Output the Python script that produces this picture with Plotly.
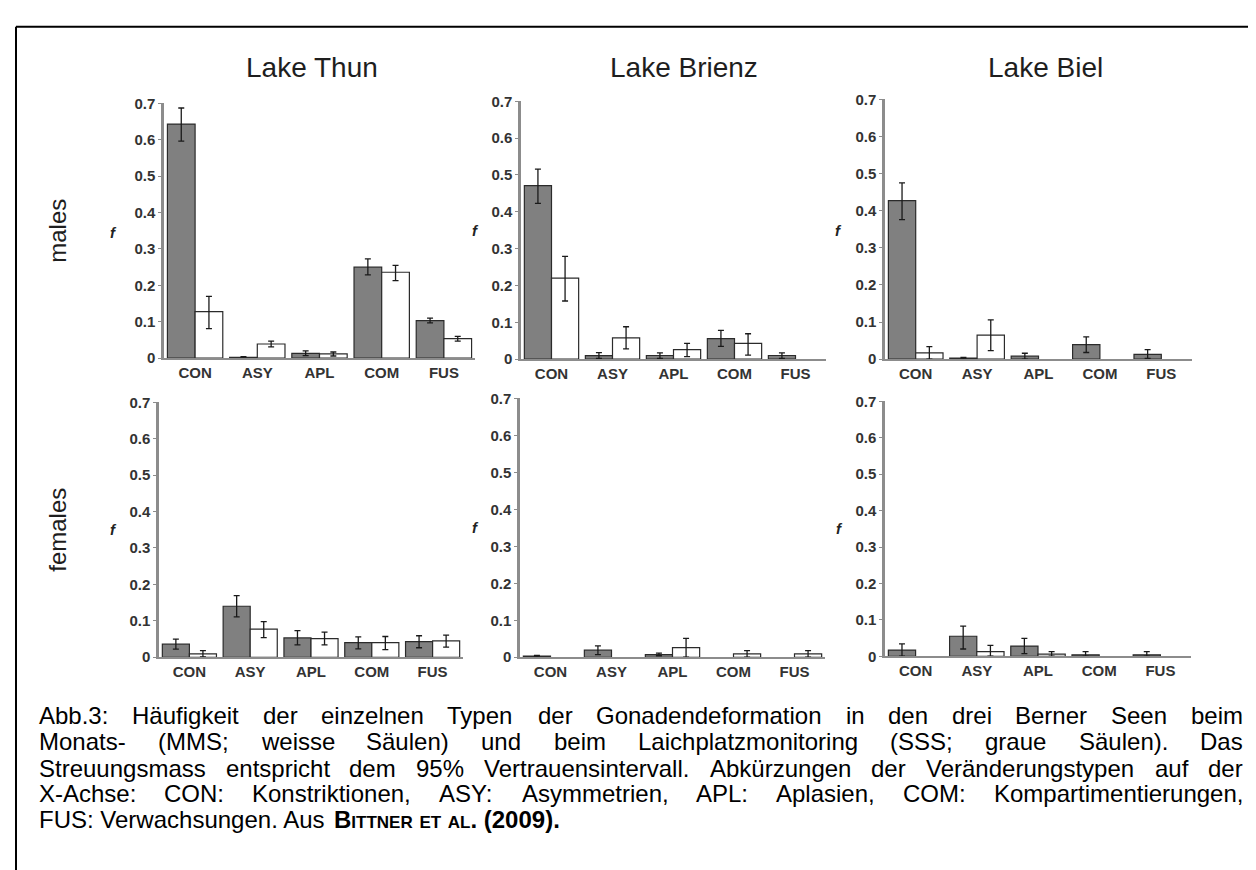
import plotly.graph_objects as go

W_PX, H_PX = 1256, 870

categories = ["CON", "ASY", "APL", "COM", "FUS"]
lakes = ["Lake Thun", "Lake Brienz", "Lake Biel"]
sexes = ["males", "females"]
y_tick_vals = [0, 0.1, 0.2, 0.3, 0.4, 0.5, 0.6, 0.7]
y_tick_text = ["0", "0.1", "0.2", "0.3", "0.4", "0.5", "0.6", "0.7"]

# grey bars = SSS (spawning site monitoring), white bars = MMS (monthly monitoring)
# ---- males ----
thun_m_sss = [0.643, 0.002, 0.0135, 0.250, 0.103]
thun_m_sss_lo = [0.596, 0.000, 0.007, 0.229, 0.097]
thun_m_sss_hi = [0.687, 0.0045, 0.020, 0.273, 0.110]
thun_m_mms = [0.128, 0.039, 0.012, 0.236, 0.054]
thun_m_mms_lo = [0.081, 0.031, 0.006, 0.213, 0.047]
thun_m_mms_hi = [0.170, 0.047, 0.017, 0.255, 0.060]

brienz_m_sss = [0.471, 0.0097, 0.010, 0.056, 0.010]
brienz_m_sss_lo = [0.423, 0.002, 0.002, 0.035, 0.002]
brienz_m_sss_hi = [0.516, 0.018, 0.017, 0.078, 0.017]
brienz_m_mms = [0.220, 0.058, 0.026, 0.043, None]
brienz_m_mms_lo = [0.158, 0.028, 0.007, 0.011, None]
brienz_m_mms_hi = [0.279, 0.088, 0.043, 0.069, None]

biel_m_sss = [0.427, 0.003, 0.008, 0.039, 0.013]
biel_m_sss_lo = [0.376, 0.001, 0.000, 0.018, 0.002]
biel_m_sss_hi = [0.475, 0.005, 0.016, 0.060, 0.026]
biel_m_mms = [0.017, 0.065, None, None, None]
biel_m_mms_lo = [0.000, 0.023, None, None, None]
biel_m_mms_hi = [0.034, 0.106, None, None, None]

# ---- females ----
thun_f_sss = [0.036, 0.140, 0.053, 0.040, 0.043]
thun_f_sss_lo = [0.0225, 0.111, 0.034, 0.023, 0.026]
thun_f_sss_hi = [0.050, 0.169, 0.073, 0.056, 0.059]
thun_f_mms = [0.009, 0.077, 0.051, 0.040, 0.045]
thun_f_mms_lo = [0.001, 0.054, 0.034, 0.021, 0.028]
thun_f_mms_hi = [0.018, 0.098, 0.069, 0.057, 0.061]

brienz_f_sss = [0.003, 0.019, 0.007, None, None]
brienz_f_sss_lo = [0.001, 0.007, 0.004, None, None]
brienz_f_sss_hi = [0.005, 0.031, 0.011, None, None]
brienz_f_mms = [None, None, 0.026, 0.009, 0.009]
brienz_f_mms_lo = [None, None, 0.000, 0.000, 0.000]
brienz_f_mms_hi = [None, None, 0.051, 0.018, 0.018]

biel_f_sss = [0.017, 0.055, 0.028, 0.004, 0.004]
biel_f_sss_lo = [0.000, 0.020, 0.007, 0.000, 0.000]
biel_f_sss_hi = [0.034, 0.083, 0.049, 0.0125, 0.0125]
biel_f_mms = [None, 0.013, 0.006, None, None]
biel_f_mms_lo = [None, 0.000, 0.000, None, None]
biel_f_mms_hi = [None, 0.030, 0.0125, None, None]

caption_lines = [
    "Abb.3: Häufigkeit der einzelnen Typen der Gonadendeformation in den drei Berner Seen beim",
    "Monats- (MMS; weisse Säulen) und beim Laichplatzmonitoring (SSS; graue Säulen). Das",
    "Streuungsmass entspricht dem 95% Vertrauensintervall. Abkürzungen der Veränderungstypen auf der",
    "X-Achse: CON: Konstriktionen, ASY: Asymmetrien, APL: Aplasien, COM: Kompartimentierungen,",
]
caption_last = "FUS: Verwachsungen. Aus"
caption_ref = "Bittner et al. (2009)."

panels = [
    (thun_m_sss, thun_m_sss_lo, thun_m_sss_hi, thun_m_mms, thun_m_mms_lo, thun_m_mms_hi),
    (brienz_m_sss, brienz_m_sss_lo, brienz_m_sss_hi, brienz_m_mms, brienz_m_mms_lo, brienz_m_mms_hi),
    (biel_m_sss, biel_m_sss_lo, biel_m_sss_hi, biel_m_mms, biel_m_mms_lo, biel_m_mms_hi),
    (thun_f_sss, thun_f_sss_lo, thun_f_sss_hi, thun_f_mms, thun_f_mms_lo, thun_f_mms_hi),
    (brienz_f_sss, brienz_f_sss_lo, brienz_f_sss_hi, brienz_f_mms, brienz_f_mms_lo, brienz_f_mms_hi),
    (biel_f_sss, biel_f_sss_lo, biel_f_sss_hi, biel_f_mms, biel_f_mms_lo, biel_f_mms_hi),
]

# panel boxes in pixels: (x_left, x_right, y_top(0.7), y_bottom(0))
boxes = [
    (156, 467, 88, 348),
    (513, 818, 86, 349),
    (877, 1184, 84, 349),
    (151, 455, 393, 653),
    (512, 817, 389, 653),
    (877, 1183, 392, 652),
]
f_pos = [(105, 220), (468, 218), (830, 218), (105, 523), (468, 521), (831, 522)]


def px(x):
    return x / W_PX


def py(y):
    return 1 - y / H_PX


def err(vals, lo, hi):
    up = [None if v is None else h - v for v, h in zip(vals, hi)]
    dn = [None if v is None else v - l for v, l in zip(vals, lo)]
    return up, dn


FONT = "Liberation Sans, Arial, sans-serif"

fig = go.Figure()
layout_axes = {}
for i, (data, box) in enumerate(zip(panels, boxes)):
    k = "" if i == 0 else str(i + 1)
    sss, sss_lo, sss_hi, mms, mms_lo, mms_hi = data
    for vals, lo, hi, color in ((sss, sss_lo, sss_hi, "#808080"), (mms, mms_lo, mms_hi, "#ffffff")):
        up, dn = err(vals, lo, hi)
        fig.add_trace(go.Bar(
            x=categories, y=vals, xaxis="x" + k, yaxis="y" + k,
            marker=dict(color=color, line=dict(color="#2b2b2b", width=1.2)),
            error_y=dict(type="data", symmetric=False, array=up, arrayminus=dn,
                         color="#1a1a1a", thickness=1.3, width=3),
            showlegend=False,
        ))
    xl, xr, yt, yb = box
    layout_axes["xaxis" + k] = dict(
        domain=[px(xl), px(xr)], anchor="y" + k, type="category",
        range=[-0.5, 4.5], showline=True, linecolor="#8c8c8c", linewidth=2,
        ticks="", showgrid=False, zeroline=False, fixedrange=True,
        tickfont=dict(family=FONT, size=15, color="#333333", weight="bold"),
    )
    layout_axes["yaxis" + k] = dict(
        domain=[py(yb), py(yt)], anchor="x" + k, range=[0, 0.7],
        tickvals=y_tick_vals, ticktext=y_tick_text, showline=True,
        linecolor="#8c8c8c", linewidth=2.5, ticks="outside", ticklen=3,
        tickcolor="#8c8c8c", showgrid=False, zeroline=False, fixedrange=True,
        tickfont=dict(family=FONT, size=15, color="#333333", weight="bold"),
    )

annotations = []
title_x = [304, 676, 1037]
for name, tx in zip(lakes, title_x):
    annotations.append(dict(text=name, x=px(tx), y=py(52), xref="paper", yref="paper",
                            showarrow=False, xanchor="center", yanchor="middle",
                            font=dict(family=FONT, size=28, color="#1e1e1e")))
for name, ry in zip(sexes, [218, 523]):
    annotations.append(dict(text=name, x=px(50), y=py(ry), xref="paper", yref="paper",
                            showarrow=False, textangle=-90, xanchor="center", yanchor="middle",
                            font=dict(family=FONT, size=24, color="#1e1e1e")))
for fx, fy in f_pos:
    annotations.append(dict(text="<i><b>f</b></i>", x=px(fx), y=py(fy), xref="paper", yref="paper",
                            showarrow=False, xanchor="center", yanchor="middle",
                            font=dict(family=FONT, size=15, color="#222222")))

# Arial / Liberation Sans advance widths (1/1000 em)
AW = {" ": 278, "!": 278, "%": 889, "(": 333, ")": 333, ",": 278, "-": 333, ".": 278,
      ":": 278, ";": 278, "0": 556, "1": 556, "2": 556, "3": 556, "4": 556, "5": 556,
      "6": 556, "7": 556, "8": 556, "9": 556,
      "A": 667, "B": 667, "C": 722, "D": 722, "E": 667, "F": 611, "G": 778, "H": 722,
      "I": 278, "J": 500, "K": 667, "L": 556, "M": 833, "N": 722, "O": 778, "P": 667,
      "Q": 778, "R": 722, "S": 667, "T": 611, "U": 722, "V": 667, "W": 944, "X": 667,
      "Y": 667, "Z": 611,
      "a": 556, "b": 556, "c": 500, "d": 556, "e": 556, "f": 278, "g": 556, "h": 556,
      "i": 222, "j": 222, "k": 500, "l": 222, "m": 833, "n": 556, "o": 556, "p": 556,
      "q": 556, "r": 333, "s": 500, "t": 278, "u": 556, "v": 500, "w": 722, "x": 500,
      "y": 500, "z": 500, "ä": 556, "ü": 556, "ö": 556}


def tw(s, size):
    return sum(AW.get(c, 556) for c in s) * size / 1000.0


CAP_FS = 24
cap_left, cap_right = 30, 1234
cap_y = [712, 739, 766, 792, 819]
cap_font = dict(family=FONT, size=CAP_FS, color="#000000")
for line, cy in zip(caption_lines, cap_y):
    words = line.split(" ")
    widths = [tw(w, CAP_FS) for w in words]
    gap = (cap_right - cap_left - sum(widths)) / (len(words) - 1)
    x = cap_left
    for w, wd in zip(words, widths):
        annotations.append(dict(text=w, x=px(x), y=py(cy), xref="paper", yref="paper",
                                showarrow=False, xanchor="left", yanchor="middle",
                                borderpad=0, font=cap_font))
        x += wd + gap
annotations.append(dict(text=caption_last, x=px(cap_left), y=py(cap_y[4]), xref="paper", yref="paper",
                        showarrow=False, xanchor="left", yanchor="middle", borderpad=0,
                        font=cap_font))
ref_x = cap_left + tw(caption_last + " ", CAP_FS)
annotations.append(dict(text="<b>" + caption_ref + "</b>", x=px(ref_x), y=py(cap_y[4]),
                        xref="paper", yref="paper", showarrow=False, xanchor="left",
                        yanchor="middle", borderpad=0,
                        font=dict(family=FONT, size=CAP_FS, color="#000000", variant="small-caps")))

shapes = [
    dict(type="line", xref="paper", yref="paper", x0=px(8), x1=px(8), y0=py(10), y1=py(875),
         line=dict(color="#000000", width=2)),
    dict(type="line", xref="paper", yref="paper", x0=px(8), x1=px(1253), y0=py(10), y1=py(10),
         line=dict(color="#000000", width=2)),
    dict(type="line", xref="paper", yref="paper", x0=px(1253), x1=px(1253), y0=py(10), y1=py(875),
         line=dict(color="#000000", width=2)),
]

fig.update_layout(
    width=W_PX, height=H_PX, autosize=False,
    margin=dict(l=0, r=0, t=0, b=0),
    paper_bgcolor="#ffffff", plot_bgcolor="#ffffff",
    barmode="group", bargap=0.11, bargroupgap=0,
    annotations=annotations, shapes=shapes,
    **layout_axes,
)
fig.write_html("out.html")
